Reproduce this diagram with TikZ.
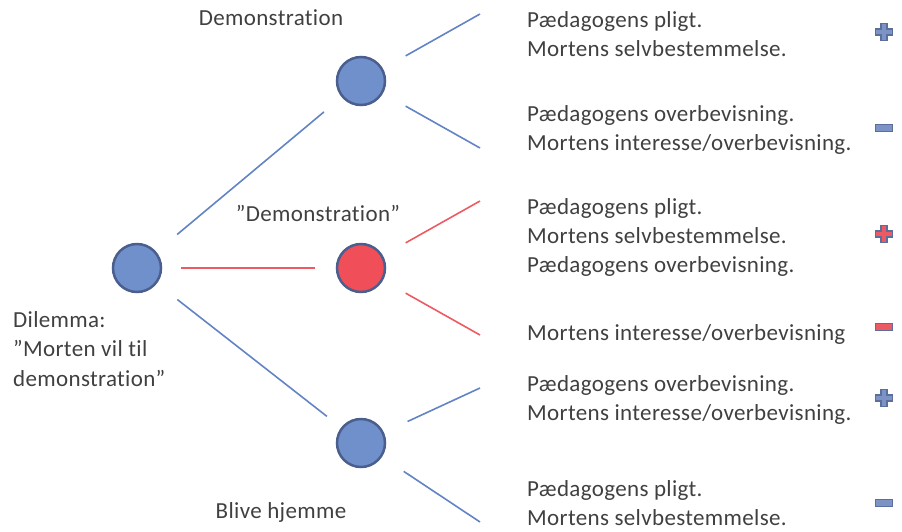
\documentclass[tikz,border=0pt]{standalone}
\usepackage{fontspec}
\setmainfont{Carlito}[Ligatures=NoCommon, LetterSpace=1.5]
\definecolor{txt}{HTML}{404040}
\definecolor{nodeblue}{HTML}{7090CC}
\definecolor{nodeedge}{HTML}{4A5F8E}
\definecolor{nodered}{HTML}{F04E58}
\definecolor{lineblue}{HTML}{6283C4}
\definecolor{linered}{HTML}{EC5B62}
\definecolor{iconblue}{HTML}{7C93C6}
\definecolor{iconedge}{HTML}{5C6F9C}
\definecolor{iconred}{HTML}{EE5A63}
\begin{document}
\begin{tikzpicture}[x=1pt,y=-1pt,
  every node/.style={font=\fontsize{23}{29}\selectfont, text=txt, inner sep=0pt},
  state/.style={circle, draw=nodeedge, line width=2.5pt, fill=nodeblue, minimum size=48pt},
  redstate/.style={state, fill=nodered},
  bl/.style={draw=lineblue, line width=1.6pt},
  rl/.style={draw=linered, line width=1.6pt},
  txtl/.style={anchor=west, align=left},
  plusicon/.style={fill=#1, draw=iconedge, line width=1.2pt},
  minusicon/.style={fill=iconblue, draw=iconedge, line width=1.2pt, minimum width=17pt, minimum height=7pt, rectangle}
]
\useasboundingbox (0,0) rectangle (902,531);
% nodes
\node[state] (root) at (137,268) {};
\node[state] (top) at (361,81) {};
\node[redstate] (mid) at (361,268) {};
\node[state] (bot) at (361,443) {};
% labels
\node (lDem) at (271,18) {Demonstration};
\node (lDemq) at (318,213) {”Demonstration”};
\node (lBliv) at (281,512) {Blive hjemme};
\node[anchor=north west, align=left, font=\fontsize{23}{29.5}\selectfont] (lDil) at (13,311) {Dilemma:\\”Morten vil til\\demonstration”};
% left connectors
\draw[bl, shorten <=27pt, shorten >=23pt] (root) -- (top);
\draw[rl, shorten <=19pt, shorten >=21pt] (root) -- (mid);
\draw[bl, shorten <=26pt, shorten >=18pt] (root) -- (bot);
% free ends
\coordinate (t1) at (480,14);
\coordinate (t2) at (480,148);
\coordinate (m1) at (480,201);
\coordinate (m2) at (480,335);
\coordinate (b1) at (480,388);
\coordinate (b2) at (480,522);
\draw[bl, shorten <=26pt] (top) -- (t1);
\draw[bl, shorten <=26pt] (top) -- (t2);
\draw[rl, shorten <=26pt] (mid) -- (m1);
\draw[rl, shorten <=26pt] (mid) -- (m2);
\draw[bl, shorten <=26pt] (bot) -- (b1);
\draw[bl, shorten <=26pt] (bot) -- (b2);
% right texts
\node[txtl] (r1) at (527,34) {Pædagogens pligt.\\Mortens selvbestemmelse.};
\node[txtl] (r2) at (527,130) {Pædagogens overbevisning.\\Mortens interesse/overbevisning.};
\node[txtl] (r3) at (527,237) {Pædagogens pligt.\\Mortens selvbestemmelse.\\Pædagogens overbevisning.};
\node[txtl] (r4) at (527,334) {Mortens interesse/overbevisning};
\node[txtl] (r5) at (527,400) {Pædagogens overbevisning.\\Mortens interesse/overbevisning.};
\node[txtl] (r6) at (527,503) {Pædagogens pligt.\\Mortens selvbestemmelse.};
% icons
\foreach \nm/\y/\c in {p1/32/iconblue, p2/234/iconred, p3/398/iconblue}{
  \draw[plusicon=\c] (884-3,\y-8.5) -- (884+3,\y-8.5) -- (884+3,\y-3) -- (884+8.5,\y-3) -- (884+8.5,\y+3) -- (884+3,\y+3) -- (884+3,\y+8.5) -- (884-3,\y+8.5) -- (884-3,\y+3) -- (884-8.5,\y+3) -- (884-8.5,\y-3) -- (884-3,\y-3) -- cycle;
}
\node[minusicon] (n1) at (884,128) {};
\node[minusicon, fill=iconred] (n2) at (884,327) {};
\node[minusicon] (n3) at (884,503) {};
\end{tikzpicture}
\end{document}
